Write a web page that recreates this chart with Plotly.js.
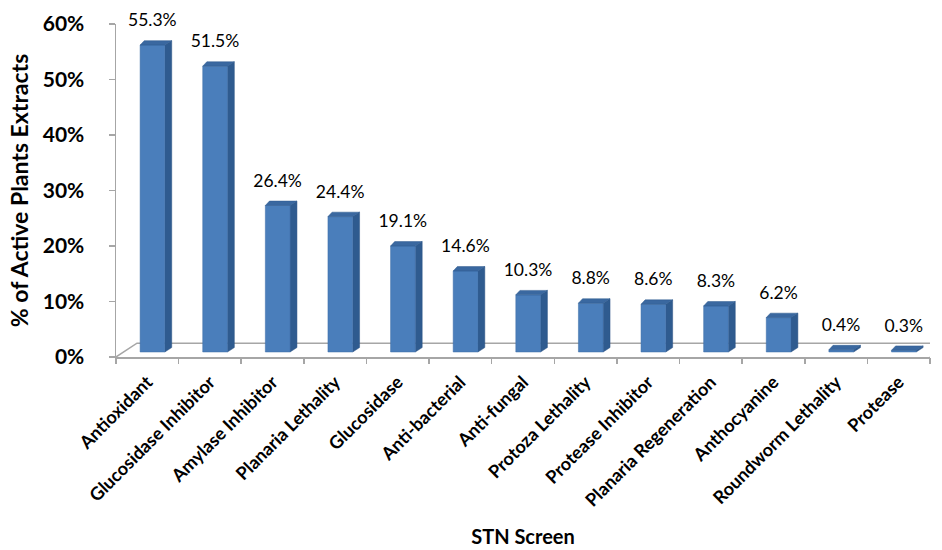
<!DOCTYPE html>
<html>
<head>
<meta charset="utf-8">
<script src="https://cdn.plot.ly/plotly-3.0.1.min.js"></script>
<style>html,body{margin:0;padding:0;background:#fff}#chart{width:942px;height:550px}</style>
</head>
<body>
<div id="chart"></div>
<script>
var categories = ["Antioxidant","Glucosidase Inhibitor","Amylase Inhibitor","Planaria Lethality","Glucosidase","Anti-bacterial","Anti-fungal","Protoza Lethality","Protease Inhibitor","Planaria Regeneration","Anthocyanine","Roundworm Lethality","Protease"];
var values = [55.3, 51.5, 26.4, 24.4, 19.1, 14.6, 10.3, 8.8, 8.6, 8.3, 6.2, 0.4, 0.3];
var valueLabels = ["55.3%","51.5%","26.4%","24.4%","19.1%","14.6%","10.3%","8.8%","8.6%","8.3%","6.2%","0.4%","0.3%"];
var yTicks = [0,10,20,30,40,50,60];
var yTickText = ["0%","10%","20%","30%","40%","50%","60%"];

// 3D styling parameters (in axis units)
var F0 = 0.385, F1 = 0.78, SD = 0.11;   // front face left/right, side depth
var BASE = 0.9, TOPR = 0.8;             // base lift, top rise
var FDX = 0.335, FDY = 2.5;             // floor depth

var n = categories.length;
var fx=[],fy=[],sx=[],sy=[],tx=[],ty=[],lx=[],ly=[],cx=[];
for (var i=0;i<n;i++){
  var v = values[i], a=i+F0, b=i+F1, c=i+F1+SD, lo=BASE, hi=BASE+v;
  fx.push(a,b,b,a,a,null); fy.push(lo,lo,hi,hi,lo,null);
  sx.push(b,c,c,b,b,null); sy.push(lo,lo+TOPR,hi+TOPR,hi,lo,null);
  tx.push(a,b,c,a+SD*0.6,a,null); ty.push(hi,hi,hi+TOPR,hi+TOPR,hi,null);
  lx.push(i+0.58); ly.push(hi+TOPR+1.8);
  cx.push(i+0.5);
}

var FONT = 'Lato, "Open Sans", sans-serif';
var traces = [
  {type:'scatter',x:[0,FDX,n+FDX],y:[0,FDY,FDY],mode:'lines',line:{color:'#a6a6a6',width:1.5},hoverinfo:'skip',cliponaxis:false,showlegend:false},
  {type:'scatter',x:[n,n+FDX],y:[0,FDY],mode:'lines',line:{color:'#a6a6a6',width:1.5},hoverinfo:'skip',cliponaxis:false,showlegend:false},
  {type:'scatter',x:sx,y:sy,mode:'lines',fill:'toself',fillcolor:'#2f5b8f',line:{color:'#2a5285',width:0.5},hoverinfo:'skip',showlegend:false,cliponaxis:false},
  {type:'scatter',x:fx,y:fy,mode:'lines',fill:'toself',fillcolor:'#4a7ebb',line:{color:'#3d6da6',width:0.5},hoverinfo:'skip',showlegend:false,cliponaxis:false},
  {type:'scatter',x:tx,y:ty,mode:'lines',fill:'toself',fillcolor:'#3a68a0',line:{color:'#2f5b8f',width:0.5},hoverinfo:'skip',showlegend:false,cliponaxis:false},
  {type:'scatter',x:lx,y:ly,mode:'text',text:valueLabels,textposition:'top center',textfont:{family:FONT,size:17.5,color:'#000'},hoverinfo:'skip',showlegend:false,cliponaxis:false},
  {type:'scatter',x:cx,y:values,mode:'markers',marker:{opacity:0},xaxis:'x2',hoverinfo:'skip',showlegend:false}
];

var layout = {
  width:942,height:550,
  margin:{l:116,r:12,t:24,b:193},
  paper_bgcolor:'#fff',plot_bgcolor:'#fff',
  showlegend:false,
  font:{family:FONT,color:'#000'},
  xaxis:{
    range:[0,n],showgrid:false,zeroline:false,showline:true,linecolor:'#a6a6a6',linewidth:1.5,
    tickmode:'array',tickvals:cx,ticktext:categories,tickangle:-45,ticks:'',ticklabelstandoff:6,
    tickfont:{family:FONT,size:18,weight:'bold',color:'#000'},
    title:{text:'STN Screen',font:{family:FONT,size:20,weight:'bold',color:'#000'},standoff:20},
    fixedrange:true
  },
  xaxis2:{
    overlaying:'x',range:[0,n],anchor:'y',side:'bottom',showgrid:false,zeroline:false,showline:false,
    tickmode:'array',tickvals:Array.from({length:n+1},function(_,k){return k;}),ticktext:Array.from({length:n+1},function(){return '';}),
    ticks:'outside',ticklen:6,tickcolor:'#a6a6a6',tickwidth:1.5,showticklabels:false,fixedrange:true
  },
  yaxis:{
    range:[0,60],showgrid:false,zeroline:false,showline:true,linecolor:'#a6a6a6',linewidth:1.5,
    tickmode:'array',tickvals:yTicks,ticktext:yTickText,ticks:'outside',ticklen:6,tickcolor:'#a6a6a6',tickwidth:1.5,
    ticklabelstandoff:20,
    tickfont:{family:FONT,size:21,weight:'bold',color:'#000'},
    title:{text:'% of Active Plants Extracts',font:{family:FONT,size:23,weight:'bold',color:'#000'},standoff:7},
    fixedrange:true
  }
};
Plotly.newPlot('chart',traces,layout,{displayModeBar:false,staticPlot:true});
</script>
</body>
</html>
